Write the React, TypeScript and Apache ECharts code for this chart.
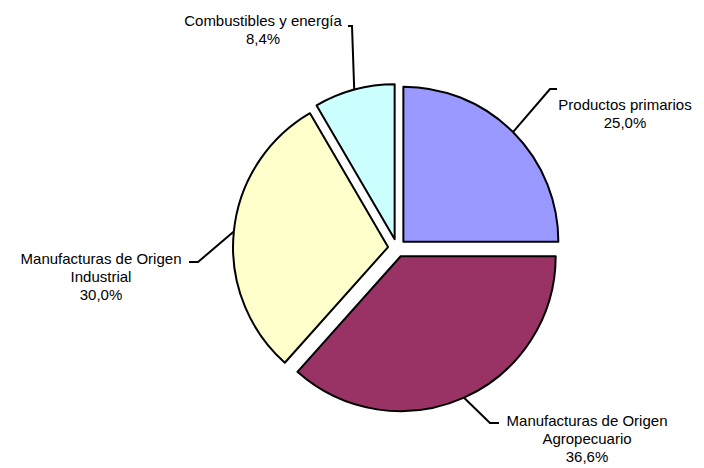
import React, { useEffect, useRef } from "react";
import * as echarts from "echarts";

const categories = [
  "Productos primarios",
  "Manufacturas de Origen\nAgropecuario",
  "Manufacturas de Origen\nIndustrial",
  "Combustibles y energía",
];
const shares = [25.0, 36.6, 30.0, 8.4];
const colors = ["#9999FF", "#993366", "#FFFFCC", "#CCFFFF"];

// label layout: text block centre and leader-line bend points (page coords)
const labelCenters = [
  [625, 113],
  [587, 438],
  [101, 276],
  [263, 29],
];
const leaderBends = [
  [[550, 89], [557, 89]],
  [[490, 423], [499, 423]],
  [[198, 262], [189, 262]],
  [[352, 26], [348, 26]],
];
const SELECTED_OFFSET = 9;

export default function App() {
  const ref = useRef<HTMLDivElement>(null);
  useEffect(() => {
    document.body.style.margin = "0";
    const chart = echarts.init(ref.current!, null, { renderer: "svg" });
    const total = shares.reduce((a, b) => a + b, 0);
    let acc = 0;
    const offsets = shares.map((v) => {
      const mid = ((acc + v / 2) / total) * Math.PI * 2;
      acc += v;
      return [SELECTED_OFFSET * Math.sin(mid), -SELECTED_OFFSET * Math.cos(mid)];
    });
    const data = categories.map((name, i) => ({
      name,
      value: shares[i],
      selected: true,
      itemStyle: { color: colors[i], borderColor: "#000", borderWidth: 2 },
      select: { itemStyle: { color: colors[i], borderColor: "#000", borderWidth: 2 } },
    }));
    chart.setOption({
      animation: false,
      backgroundColor: "#fff",
      series: [
        {
          type: "pie",
          center: [397, 248],
          radius: 155,
          startAngle: 90,
          clockwise: true,
          selectedMode: "multiple",
          selectedOffset: SELECTED_OFFSET,
          data,
          emphasis: { disabled: true },
          label: {
            show: true,
            position: "outside",
            fontFamily: "Liberation Sans, Arial, sans-serif",
            fontSize: 15,
            lineHeight: 18,
            color: "#000",
            formatter: (p: any) =>
              `${p.name}\n${Number(p.value).toFixed(1).replace(".", ",")}%`,
          },
          labelLine: {
            show: true,
            lineStyle: { color: "#000", width: 2 },
          },
          labelLayout: (params: any) => {
            const i = params.dataIndex;
            const r = params.labelRect;
            const o = offsets[i];
            const leftSide = params.align === "right";
            const anchorX = leftSide ? r.x + r.width : r.x;
            const anchorY = r.y + r.height / 2;
            const p0 = params.labelLinePoints ? params.labelLinePoints[0] : null;
            const pts = p0
              ? [p0, ...leaderBends[i].map((p) => [p[0] - o[0], p[1] - o[1]])]
              : undefined;
            return {
              align: "center",
              verticalAlign: "middle",
              dx: labelCenters[i][0] - anchorX - o[0],
              dy: labelCenters[i][1] - anchorY - o[1],
              labelLinePoints: pts,
            };
          },
        },
      ],
    });
    return () => chart.dispose();
  }, []);
  return <div ref={ref} style={{ width: 704, height: 468 }} />;
}
